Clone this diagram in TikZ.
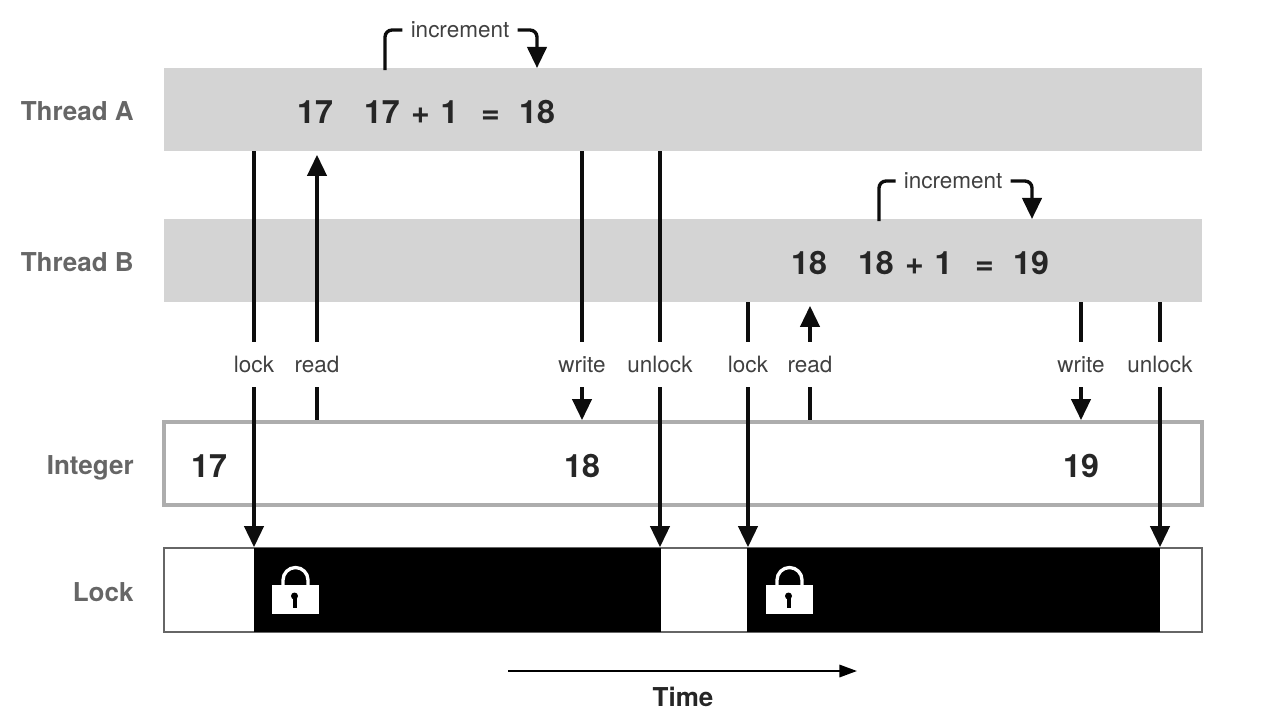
\documentclass[tikz,border=0pt]{standalone}
\usepackage{fontspec}
\setmainfont{TeX Gyre Heros}
\usetikzlibrary{calc, arrows.meta}
\definecolor{bandgray}{HTML}{D4D4D4}
\definecolor{namegray}{HTML}{666666}
\definecolor{boxgray}{HTML}{ADADAD}
\tikzset{
  band/.style={fill=bandgray, minimum width=20.76cm, minimum height=1.66cm, inner sep=0pt},
  rowname/.style={anchor=east, font=\fontsize{14.8}{16}\bfseries, text=namegray, inner sep=0pt},
  event/.style={font=\fontsize{12.8}{14}\selectfont, text=black!75, minimum height=0.9cm, inner sep=0pt},
  value/.style={font=\fontsize{18.3}{20}\bfseries, text=black!85, inner sep=0pt},
  line/.style={line width=1.9pt, black!95},
  tipped/.style={line, -{Triangle[length=12pt,width=11pt]}},
  held/.style={fill=black, minimum width=#1*0.02cm, minimum height=1.68cm, inner sep=0pt},
}
\def\gapa{\hspace{6.4pt}}
\def\gapb{\hspace{6.2pt}}
\def\gapc{\hspace{11pt}}

\begin{document}
\begin{tikzpicture}[x=0.02cm, y=-0.02cm]
  \useasboundingbox (0,0) rectangle (1264,724);
  % rows
  \node[band] (threadA) at (683,109.5) {};
  \node[band] (threadB) at (683,260.5) {};
  \node[draw=boxgray, line width=2.2pt, fill=white, minimum width=20.76cm, minimum height=1.66cm, inner sep=0pt] (integer) at (683,463.5) {};
  \node[draw=black!60, line width=1pt, fill=white, minimum width=20.76cm, minimum height=1.68cm, inner sep=0pt] (lockbar) at (683,590) {};
  \node[held=407] (heldA) at (457.5,590) {};
  \node[held=413] (heldB) at (953.5,590) {};
  \foreach \n/\y/\t in {nameA/111/Thread A, nameB/262/Thread B, nameI/468/Integer, nameL/592/Lock}{
    \node[rowname] (\n) at (134,\y) {\t};
  }
  % values
  \foreach \n/\x/\y/\t in {readA/315/112/17, sumA/459.5/112/{17\gapa+\gapb1\gapc\hspace{1.8pt}=\gapc18}, readB/809/263/18, sumB/953.5/263/{18\gapa+\gapb1\gapc\hspace{1.8pt}=\gapc19},
                           valA/209/466/17, valB/582/466/18, valC/1081/466/19}{
    \node[value] (\n) at (\x,\y) {\t};
  }
  % events
  \foreach \n/\x/\t in {lockA/254/lock, getA/317/read, putA/582/write, freeA/660/unlock,
                        lockB/748/lock, getB/810/read, putB/1081/write, freeB/1160/unlock}{
    \node[event] (\n) at (\x,364.5) {\t};
  }
  \foreach \n/\r in {lockA/threadA, freeA/threadA, lockB/threadB, freeB/threadB}{
    \draw[line] (\n.north |- \r.south) -- (\n.north);
    \draw[tipped] (\n.south) -- (\n.south |- lockbar.north);
  }
  \foreach \n/\r in {putA/threadA, putB/threadB}{
    \draw[line] (\n.north |- \r.south) -- (\n.north);
    \draw[tipped] (\n.south) -- (\n.south |- integer.north);
  }
  \foreach \n/\r in {getA/threadA, getB/threadB}{
    \draw[tipped, shorten >=2pt] (\n.north) -- (\n.north |- \r.south);
    \draw[line] (\n.south) -- (\n.south |- integer.north);
  }
  % increment brackets
  \foreach \n/\x/\y/\a/\b/\r in {incA/460/30/385/537/threadA, incB/953/181/879/1032/threadB}{
    \node[event, minimum height=0pt, inner sep=4.5pt] (\n) at (\x,\y) {increment};
    \coordinate (\n from) at (\a,\y+40);
    \coordinate (\n to) at (\b,\y+38);
    \draw[line, rounded corners=4pt] (\n from) |- (\n.west);
    \draw[tipped, rounded corners=4pt] (\n.east) -| (\n to);
  }
  % padlocks
  \foreach \n/\x in {padA/272, padB/766}{
    \node[fill=white, minimum width=0.94cm, minimum height=0.58cm, inner sep=0pt, anchor=north west] (\n) at (\x,585) {};
    \draw[white, line width=1.9pt] (\x+11,585) -- (\x+11,580) arc[start angle=180, end angle=360, radius=12.5] -- (\x+36,585);
    \fill[black] (\x+22.5,596) circle[radius=3.5];
    \fill[black] (\x+20.5,596) rectangle (\x+24.5,608);
  }
  % time axis
  \coordinate (timeL) at (508,671);
  \coordinate (timeR) at (857,671);
  \draw[line width=1.3pt, -{Triangle[length=10pt,width=7pt]}] (timeL) -- (timeR);
  \node[font=\fontsize{14.8}{16}\bfseries, text=black!85, inner sep=0pt] (timeN) at (683,697) {Time};
\end{tikzpicture}
\end{document}
